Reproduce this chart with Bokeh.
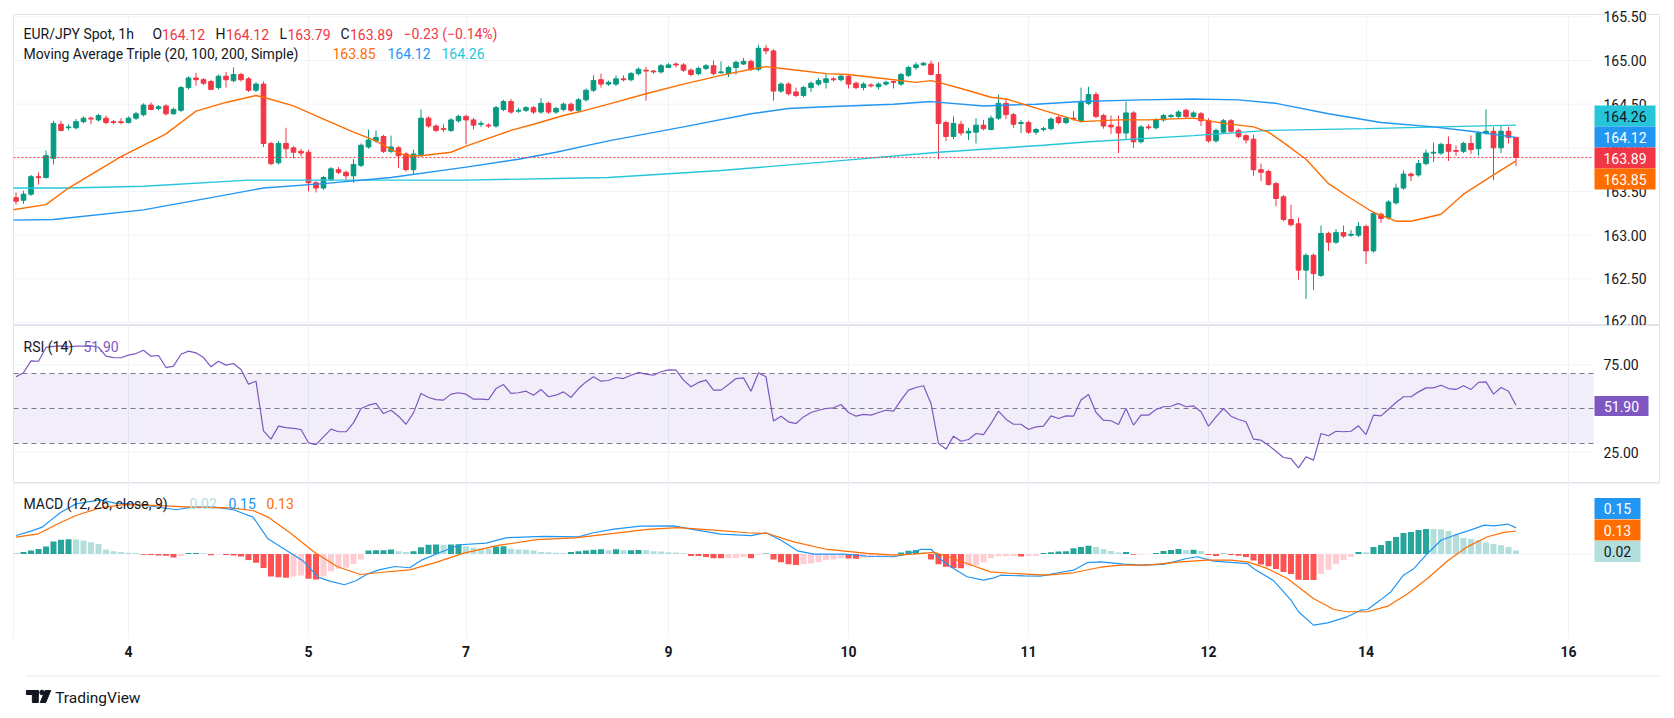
from bokeh.plotting import figure
from bokeh.layouts import column
from bokeh.models import Range1d, FixedTicker, Span, BoxAnnotation, Label, PrintfTickFormatter, ColumnDataSource
from bokeh.core.properties import value
from bokeh.embed import file_html
from bokeh.resources import INLINE

# ---------------- data (EUR/JPY 1h, 3-15 April) ----------------
day_ticks = [15, 39, 60, 87, 111, 135, 159, 180, 207]
day_labels = ["4", "5", "7", "9", "10", "11", "12", "14", "16"]

opens = [
    163.43,163.40,163.47,163.67,163.66,163.88,164.27,164.23,164.23,164.30,
    164.34,164.32,164.34,164.30,164.30,164.29,164.34,164.38,164.49,164.45,
    164.48,164.39,164.43,164.69,164.80,164.78,164.76,164.69,164.82,164.77,
    164.84,164.79,164.66,164.73,164.05,163.83,164.05,164.00,163.96,163.95,
    163.60,163.54,163.64,163.75,163.72,163.68,163.80,164.01,164.08,164.13,
    163.96,164.00,163.93,163.75,163.92,164.34,164.25,164.22,164.20,164.31,
    164.36,164.32,164.27,164.26,164.25,164.44,164.53,164.42,164.43,164.46,
    164.41,164.51,164.41,164.44,164.50,164.43,164.55,164.66,164.78,164.73,
    164.73,164.79,164.78,164.85,164.89,164.88,164.87,164.92,164.96,164.95,
    164.89,164.85,164.91,164.94,164.86,164.85,164.92,164.96,164.99,164.90,
    165.14,165.11,164.65,164.73,164.64,164.60,164.69,164.73,164.75,164.79,
    164.78,164.82,164.74,164.69,164.72,164.70,164.73,164.76,164.73,164.83,
    164.92,164.95,164.96,164.84,164.29,164.13,164.27,164.17,164.18,164.26,
    164.21,164.34,164.51,164.38,164.28,164.29,164.18,164.21,164.22,164.35,
    164.29,164.34,164.31,164.51,164.61,164.37,164.26,164.24,164.17,164.40,
    164.07,164.24,164.23,164.32,164.36,164.36,164.43,164.36,164.39,164.31,
    164.08,164.18,164.31,164.20,164.14,164.10,163.75,163.73,163.59,163.44,
    163.18,163.13,162.60,162.77,162.54,163.02,162.92,163.03,163.00,163.00,
    163.10,162.82,163.24,163.20,163.37,163.54,163.70,163.69,163.82,163.94,
    163.94,164.04,163.97,163.96,164.05,163.99,164.17,164.19,164.00,164.19,
    164.12]
highs = [
    163.49,163.51,163.69,163.72,163.97,164.31,164.31,164.27,164.33,164.36,
    164.36,164.39,164.37,164.32,164.34,164.36,164.41,164.51,164.52,164.49,
    164.50,164.46,164.71,164.82,164.86,164.80,164.78,164.84,164.87,164.92,
    164.86,164.81,164.75,164.76,164.07,164.08,164.23,164.02,163.99,163.98,
    163.62,163.68,163.78,163.78,163.74,163.87,164.05,164.21,164.20,164.15,
    164.14,164.02,163.95,163.98,164.44,164.36,164.27,164.27,164.34,164.38,
    164.38,164.34,164.31,164.28,164.48,164.55,164.56,164.46,164.48,164.48,
    164.57,164.53,164.47,164.52,164.52,164.57,164.68,164.83,164.85,164.77,
    164.83,164.83,164.87,164.92,164.93,164.89,164.96,164.97,164.98,164.97,
    164.91,164.93,164.96,165.00,164.99,164.94,165.00,165.03,165.01,165.18,
    165.18,165.13,164.75,164.75,164.69,164.71,164.76,164.80,164.85,164.81,
    164.84,164.84,164.76,164.75,164.74,164.75,164.77,164.77,164.86,164.94,
    164.98,164.98,165.00,164.98,164.31,164.36,164.31,164.23,164.34,164.32,
    164.37,164.61,164.56,164.40,164.32,164.31,164.23,164.24,164.35,164.37,
    164.36,164.42,164.69,164.70,164.64,164.39,164.37,164.37,164.53,164.42,
    164.26,164.27,164.34,164.39,164.39,164.43,164.45,164.42,164.41,164.34,
    164.22,164.33,164.33,164.22,164.16,164.15,163.82,163.75,163.61,163.46,
    163.35,163.20,162.79,162.79,163.11,163.04,163.07,163.11,163.06,163.15,
    163.12,163.27,163.26,163.40,163.59,163.74,163.72,163.86,163.98,164.06,
    164.06,164.13,164.03,164.07,164.14,164.19,164.44,164.24,164.26,164.24,
    164.12]
lows = [
    163.35,163.36,163.45,163.58,163.65,163.81,164.19,164.20,164.21,164.28,
    164.27,164.30,164.27,164.27,164.27,164.28,164.32,164.36,164.43,164.43,
    164.37,164.38,164.41,164.67,164.71,164.72,164.66,164.67,164.69,164.75,
    164.76,164.64,164.64,164.01,163.80,163.81,163.89,163.88,163.90,163.50,
    163.49,163.52,163.62,163.70,163.63,163.60,163.78,163.99,164.06,163.94,
    163.94,163.77,163.73,163.70,163.90,164.23,164.18,164.18,164.18,164.29,
    164.04,164.21,164.24,164.23,164.23,164.42,164.39,164.40,164.41,164.39,
    164.39,164.39,164.39,164.42,164.41,164.41,164.53,164.64,164.69,164.71,
    164.71,164.76,164.76,164.83,164.54,164.85,164.85,164.92,164.92,164.87,
    164.82,164.83,164.89,164.83,164.85,164.81,164.84,164.95,164.88,164.88,
    165.07,164.54,164.63,164.60,164.58,164.58,164.64,164.71,164.68,164.76,
    164.76,164.68,164.67,164.66,164.69,164.67,164.71,164.68,164.71,164.81,
    164.89,164.94,164.83,163.87,164.08,164.10,164.14,164.09,164.05,164.20,
    164.20,164.32,164.33,164.23,164.17,164.16,164.15,164.19,164.20,164.27,
    164.27,164.31,164.29,164.49,164.34,164.22,164.16,163.94,164.09,164.00,
    164.05,164.21,164.21,164.30,164.34,164.34,164.34,164.34,164.25,164.06,
    164.06,164.16,164.17,164.11,164.05,163.68,163.62,163.57,163.33,163.16,
    163.10,162.49,162.27,162.37,162.52,162.82,162.90,162.97,162.98,162.98,
    162.67,162.80,163.14,163.18,163.35,163.52,163.62,163.67,163.80,163.84,
    163.92,163.85,163.91,163.94,163.93,163.91,164.15,163.63,163.94,164.05,
    163.79]
closes = [
    163.39,163.47,163.67,163.66,163.91,164.28,164.20,164.24,164.30,164.34,
    164.33,164.37,164.29,164.29,164.29,164.34,164.39,164.49,164.44,164.47,
    164.39,164.44,164.69,164.80,164.78,164.74,164.67,164.82,164.78,164.84,
    164.78,164.66,164.73,164.05,163.82,164.05,163.99,163.95,163.94,163.60,
    163.54,163.66,163.76,163.72,163.68,163.81,164.03,164.09,164.12,163.96,
    164.01,163.91,163.75,163.93,164.34,164.25,164.20,164.21,164.32,164.36,
    164.32,164.26,164.28,164.25,164.46,164.53,164.41,164.43,164.46,164.41,
    164.51,164.41,164.45,164.50,164.43,164.55,164.66,164.77,164.73,164.75,
    164.79,164.78,164.85,164.90,164.88,164.87,164.94,164.95,164.95,164.89,
    164.84,164.91,164.94,164.85,164.87,164.92,164.98,164.99,164.90,165.14,
    165.11,164.65,164.73,164.62,164.60,164.69,164.74,164.77,164.79,164.78,
    164.82,164.73,164.69,164.73,164.71,164.73,164.75,164.75,164.84,164.92,
    164.95,164.97,164.84,164.28,164.13,164.28,164.17,164.19,164.26,164.22,
    164.34,164.51,164.38,164.27,164.29,164.18,164.21,164.22,164.33,164.29,
    164.34,164.33,164.52,164.61,164.36,164.25,164.24,164.17,164.40,164.07,
    164.24,164.23,164.32,164.37,164.37,164.41,164.36,164.40,164.31,164.08,
    164.20,164.31,164.19,164.13,164.09,163.75,163.72,163.58,163.42,163.18,
    163.12,162.60,162.77,162.56,163.02,162.92,163.03,162.99,163.01,163.10,
    162.82,163.25,163.19,163.38,163.54,163.70,163.68,163.82,163.94,163.95,
    164.04,163.96,163.96,164.05,163.98,164.17,164.19,164.00,164.19,164.12,
    163.89]

ma20_idx = [-2,4,7,14,20,24,28,32,33,37,41,45,48,50,52,54,58,60,66,69,73,75,79,84,89,94,98,100,103,108,
            111,115,120,122,123,126,130,132,137,142,147,151,157,161,165,167,169,172,175,178,181,184,186,190,193,197,200]
ma20_val = [163.27,163.35,163.54,163.90,164.16,164.42,164.52,164.60,164.58,164.48,164.33,164.18,164.08,163.98,
            163.91,163.91,163.95,164.02,164.20,164.27,164.37,164.41,164.50,164.62,164.73,164.83,164.90,164.93,
            164.90,164.85,164.84,164.80,164.75,164.77,164.75,164.68,164.58,164.56,164.43,164.30,164.32,164.32,
            164.34,164.28,164.24,164.18,164.06,163.87,163.59,163.42,163.26,163.16,163.16,163.24,163.47,163.69,163.85]
ma100_idx = [-2,5,17,26,33,41,50,60,67,72,79,89,98,103,108,117,122,129,136,142,150,157,163,168,175,182,189,194,200]
ma100_val = [163.17,163.18,163.29,163.43,163.54,163.59,163.66,163.78,163.87,163.95,164.08,164.24,164.39,164.45,
             164.47,164.50,164.53,164.48,164.50,164.53,164.55,164.56,164.55,164.51,164.39,164.29,164.24,164.19,164.12]
ma200_idx = [-2,7,17,31,46,60,72,79,94,108,123,137,143,157,167,180,190,200]
ma200_val = [163.54,163.54,163.56,163.63,163.63,163.63,163.65,163.66,163.74,163.84,163.95,164.03,164.07,164.14,
             164.20,164.22,164.24,164.26]

rsi = [
    68.1,70.4,77.2,77.0,84.9,85.5,85.8,85.2,85.6,85.6,
    85.8,85.0,79.9,79.1,79.0,80.5,81.4,83.3,79.9,80.3,
    73.4,74.2,81.0,82.8,81.8,79.1,73.8,77.0,74.8,75.7,
    72.3,63.9,65.6,37.2,32.5,39.9,39.1,38.6,38.0,30.4,
    29.4,33.8,38.2,36.7,36.7,41.8,50.0,51.9,52.9,47.1,
    49.0,45.6,41.0,47.5,58.6,56.3,55.1,54.8,58.2,59.0,
    58.2,55.3,55.3,55.1,61.4,63.7,58.6,59.0,59.9,57.6,
    60.9,56.7,57.6,59.5,56.3,61.4,65.2,68.1,65.6,66.0,
    67.7,67.1,69.0,70.6,69.6,69.0,71.0,72.1,71.9,66.2,
    62.4,64.9,66.2,60.5,60.5,63.7,67.1,67.5,59.9,70.4,
    68.1,42.8,45.6,42.4,41.4,45.2,47.7,49.0,50.0,50.4,
    52.3,47.7,45.6,46.6,46.2,47.7,49.0,48.5,54.8,60.5,
    62.0,63.0,52.9,30.0,26.8,34.2,31.3,32.3,35.7,35.1,
    41.4,48.5,43.9,41.0,41.0,38.0,39.5,39.9,45.8,44.3,
    45.8,45.6,54.8,58.0,47.7,43.3,43.0,40.9,50.0,40.5,
    46.2,46.2,49.4,51.0,51.3,52.9,51.0,51.5,48.1,39.9,
    45.2,50.0,45.6,43.7,42.4,32.5,31.9,29.0,25.6,22.0,
    21.4,16.1,22.4,20.5,35.7,34.4,37.0,36.7,37.0,40.1,
    35.1,46.2,45.8,49.6,53.4,56.7,56.7,59.5,61.8,61.8,
    63.3,61.4,60.9,63.0,60.9,64.9,65.2,58.2,62.0,59.9,
    51.9]

macd_idx = [0,2,3.5,4.6,6,8,11.2,13.2,15.3,18.3,21.4,23.4,26.5,29,31.6,33.6,35.7,38.2,40.3,41.8,
            43.8,45.4,46.9,48.4,50.5,52.5,54,56.6,59.2,62.7,65.3,70.4,75,77,79.7,83.3,87.7,90,94,98,
            100,102,104.2,106.4,110.4,113.5,117,118.8,120.6,122,123.3,125,126.8,129,130.4,131.3,134.4,136.6,138.4,141,
            142.8,144.6,147.7,150,153,156.1,157.5,159.7,164.2,165,167.7,170,171,173,174.9,177.5,179.3,180.2,181.9,183.3,
            185,186.4,188.2,190,191.8,193.5,195.8,197.1,198.9,200]
macd_val = [0.106,0.131,0.154,0.193,0.240,0.288,0.311,0.292,0.288,0.273,0.254,0.269,0.269,0.254,0.212,0.087,0.030,-0.037,-0.133,-0.156,
            -0.177,-0.152,-0.114,-0.091,-0.072,-0.079,-0.037,0.010,0.053,0.062,0.093,0.101,0.098,0.122,0.143,0.160,0.162,0.143,0.114,0.105,
            0.122,0.079,0.018,-0.001,-0.001,-0.013,-0.016,-0.001,0.026,0.027,-0.032,-0.083,-0.131,-0.150,-0.137,-0.122,-0.126,-0.127,-0.112,-0.093,
            -0.050,-0.045,-0.058,-0.064,-0.060,-0.026,-0.016,-0.041,-0.055,-0.083,-0.154,-0.265,-0.332,-0.409,-0.396,-0.361,-0.323,-0.319,-0.265,-0.218,
            -0.122,-0.083,0.003,0.079,0.108,0.131,0.166,0.162,0.172,0.150]
signal_idx = [0,3,5.6,8,11.2,14.3,18.3,23.4,28.5,31.6,33.6,36.7,39.8,42.8,45.9,48.9,52.5,56.1,59.7,64.3,
              69.4,74.5,79.7,84.2,88.2,93.1,97.5,100.2,103.7,108.2,113.5,117,119.7,122.4,124.1,126.8,129.9,133,137.5,141,
              144.6,147.3,150.8,155.3,158.8,161.9,164.2,166.8,169.5,173,175.7,177.5,180.2,182.9,185.6,188.2,190.9,193.5,196.2,198.4,200]
signal_val = [0.097,0.116,0.174,0.221,0.265,0.284,0.279,0.269,0.265,0.250,0.212,0.116,0.010,-0.072,-0.118,-0.105,-0.091,-0.047,0.005,0.049,
              0.082,0.093,0.118,0.141,0.152,0.137,0.122,0.118,0.070,0.026,0.003,-0.007,-0.001,0.009,-0.013,-0.055,-0.103,-0.112,-0.122,-0.108,
              -0.076,-0.064,-0.064,-0.045,-0.035,-0.035,-0.045,-0.083,-0.141,-0.256,-0.319,-0.332,-0.332,-0.300,-0.227,-0.141,-0.039,0.041,0.099,0.124,0.132]
hist = [
    0.006,0.011,0.020,0.028,0.043,0.072,0.082,0.084,0.083,0.078,
    0.068,0.058,0.026,0.016,0.011,0.007,0.005,-0.004,-0.006,-0.008,
    -0.010,-0.020,-0.012,0.005,0.006,0.004,-0.007,-0.003,-0.006,-0.008,
    -0.014,-0.034,-0.050,-0.080,-0.130,-0.134,-0.136,-0.130,-0.124,-0.143,
    -0.146,-0.130,-0.099,-0.085,-0.079,-0.057,-0.032,0.020,0.021,0.022,
    0.026,0.016,0.011,0.016,0.039,0.053,0.055,0.053,0.054,0.056,
    0.045,0.036,0.031,0.030,0.043,0.044,0.030,0.026,0.024,0.020,
    0.011,0.010,0.007,0.005,0.011,0.016,0.020,0.024,0.027,0.021,
    0.027,0.021,0.022,0.023,0.021,0.016,0.015,0.010,0.009,0.004,
    -0.011,-0.012,-0.017,-0.024,-0.025,-0.024,-0.023,-0.017,-0.025,-0.006,
    0.003,-0.031,-0.048,-0.059,-0.063,-0.059,-0.054,-0.048,-0.034,-0.031,
    -0.025,-0.026,-0.027,-0.021,-0.019,-0.015,-0.011,-0.008,0.008,0.019,
    0.023,0.010,-0.031,-0.059,-0.073,-0.080,-0.082,-0.069,-0.063,-0.048,
    -0.025,-0.013,-0.012,-0.011,-0.014,-0.012,-0.011,0.006,0.010,0.015,
    0.016,0.033,0.040,0.048,0.040,0.029,0.017,0.008,0.011,-0.004,
    -0.003,-0.002,0.006,0.017,0.023,0.029,0.023,0.024,0.017,-0.006,
    -0.011,0.003,-0.006,-0.010,-0.017,-0.038,-0.061,-0.071,-0.086,-0.103,
    -0.115,-0.148,-0.149,-0.150,-0.115,-0.092,-0.057,-0.034,-0.017,0.011,
    0.010,0.040,0.052,0.075,0.098,0.121,0.126,0.138,0.144,0.143,
    0.142,0.132,0.109,0.092,0.086,0.080,0.066,0.058,0.050,0.040,
    0.020]

# ---------------- styling / layout constants ----------------
UP, DOWN = "#089981", "#F23645"
C20, C100, C200 = "#FF6D00", "#2196F3", "#26C6DA"
RSI_C = "#7E57C2"
GRID = "#F0F3FA"
BORDER = "#E0E3EB"
TXT = "#131722"
FONT = "Roboto"
LEFT, RIGHT_EDGE, PLOT_RIGHT = 13, 1660, 1593   # page x: frame left, widget right, price-scale start
FRAME_W = RIGHT_EDGE - LEFT
X0_PAGE, BAR_PX = 15.5, 7.5                       # page x of bar 0, pixels per bar

MAIN_TOP, MAIN_H, MAIN_Y = 14, 311, (161.966, 165.527)
RSI_TOP, RSI_H, RSI_Y = 325, 158, (7.14, 97.43)
MACD_TOP, MACD_H, MACD_Y = 483, 155, (-0.4856, 0.405)


def xd(px):
    return (px - X0_PAGE) / BAR_PX


def yd(py, top, h, rng):
    lo, hi = rng
    return hi - (py - top) / h * (hi - lo)


xr = Range1d(xd(LEFT), xd(RIGHT_EDGE))
X_END = xd(PLOT_RIGHT)


def make_fig(frame_h, rng, ticks, fmt, border_top=0, border_bottom=0, xaxis=False):
    p = figure(frame_width=FRAME_W, frame_height=frame_h, x_range=xr, y_range=Range1d(*rng),
               output_backend="svg", toolbar_location=None, y_axis_location="right",
               x_axis_location="below" if xaxis else None,
               min_border_left=LEFT, min_border_right=0, min_border_top=border_top,
               min_border_bottom=border_bottom)
    p.background_fill_color = "white"
    p.border_fill_color = "white"
    p.outline_line_color = BORDER
    p.xgrid.ticker = FixedTicker(ticks=day_ticks)
    p.xgrid.grid_line_color = GRID
    p.ygrid.visible = False
    # horizontal grid lines stop where the price scale begins
    p.segment(x0=[xr.start] * len(ticks), y0=ticks, x1=[X_END] * len(ticks), y1=ticks,
              line_color=GRID, line_width=1)
    ax = p.yaxis[0]
    ax.ticker = FixedTicker(ticks=ticks)
    ax.formatter = PrintfTickFormatter(format=fmt)
    ax.axis_line_color = None
    ax.major_tick_line_color = None
    ax.minor_tick_line_color = None
    ax.major_tick_out = 0
    ax.major_tick_in = 0
    ax.major_label_standoff = -(RIGHT_EDGE - 1603)   # labels sit inside the price-scale strip
    ax.major_label_text_font = FONT
    ax.major_label_text_font_size = "14px"
    ax.major_label_text_color = TXT
    return p


def text(p, px, py, top, h, rng, s, color=TXT, size="14px"):
    p.add_layout(Label(x=xd(px), y=yd(py, top, h, rng), text=s, text_font=FONT, text_font_size=size,
                       text_color=color, text_align="left", text_baseline="middle"))


def boxes(p, pys, top, h, rng, labels, bgs, fgs, width_px, height_px):
    """Price-scale value tags, drawn above the axis labels."""
    xc = xd(PLOT_RIGHT + 1 + width_px / 2)
    ys = [yd(py, top, h, rng) for py in pys]
    p.rect(x=[xc] * len(ys), y=ys, width=width_px, height=height_px, width_units="screen",
           height_units="screen", fill_color=bgs, line_color=None, level="overlay")
    p.text(x=[xc] * len(ys), y=ys, text=labels, text_color=fgs, text_font=value(FONT),
           text_font_size=value("14px"), text_align="center", text_baseline="middle", level="overlay")


# ---------------- main price pane ----------------
price_ticks = [162.0, 162.5, 163.0, 163.5, 164.0, 164.5, 165.0, 165.5]
p1 = make_fig(MAIN_H, MAIN_Y, price_ticks, "%.2f", border_top=MAIN_TOP)
idx = list(range(len(closes)))
cols = [UP if c > o else DOWN for o, c in zip(opens, closes)]
src = ColumnDataSource(dict(x=idx, o=opens, h=highs, l=lows, c=closes,
                            top=[max(o, c) for o, c in zip(opens, closes)],
                            bot=[min(o, c) for o, c in zip(opens, closes)], col=cols))
p1.segment(x0="x", y0="l", x1="x", y1="h", color="col", line_width=1, source=src)
p1.vbar(x="x", top="top", bottom="bot", width=0.62, fill_color="col", line_color="col", line_width=1, source=src)
p1.line(ma200_idx, ma200_val, line_color=C200, line_width=1.4)
p1.line(ma100_idx, ma100_val, line_color=C100, line_width=1.4)
p1.line(ma20_idx, ma20_val, line_color=C20, line_width=1.4)
p1.segment(x0=[xr.start], y0=[closes[-1]], x1=[X_END], y1=[closes[-1]], line_color=DOWN,
           line_dash="2 2", line_width=1)

chg = closes[-1] - closes[-2]
pct = chg / closes[-2] * 100
M = (MAIN_TOP, MAIN_H, MAIN_Y)
text(p1, 23, 33.5, *M, "EUR/JPY Spot, 1h")
for lab, val, xl, xv in [("O", opens[-1], 152, 161.5), ("H", highs[-1], 215, 225.5),
                         ("L", lows[-1], 279, 287), ("C", closes[-1], 340, 349.5)]:
    text(p1, xl, 33.5, *M, lab)
    text(p1, xv, 33.5, *M, f"{val:.2f}", color=DOWN)
text(p1, 403, 33.5, *M, f"\u2212{abs(chg):.2f} (\u2212{abs(pct):.2f}%)", color=DOWN)
text(p1, 23, 53, *M, "Moving Average Triple (20, 100, 200, Simple)")
text(p1, 332, 53, *M, f"{ma20_val[-1]:.2f}", color=C20)
text(p1, 387, 53, *M, f"{ma100_val[-1]:.2f}", color=C100)
text(p1, 441, 53, *M, f"{ma200_val[-1]:.2f}", color=C200)

boxes(p1, [115.5, 136.5, 157.5, 178.5], *M,
      [f"{ma200_val[-1]:.2f}", f"{ma100_val[-1]:.2f}", f"{closes[-1]:.2f}", f"{ma20_val[-1]:.2f}"],
      [C200, C100, DOWN, C20], [TXT, "white", "white", "white"], 61, 21)

# ---------------- RSI pane ----------------
p2 = make_fig(RSI_H, RSI_Y, [25, 75], "%.2f")
p2.add_layout(BoxAnnotation(bottom=30, top=70, right=X_END, fill_color=RSI_C, fill_alpha=0.1, line_alpha=0))
for lvl in (70, 50, 30):
    p2.segment(x0=[xr.start], y0=[lvl], x1=[X_END], y1=[lvl], line_color="#787B86",
               line_dash="5 4", line_width=1)
p2.line(idx, rsi, line_color=RSI_C, line_width=1.2)
R = (RSI_TOP, RSI_H, RSI_Y)
text(p2, 23, 346, *R, "RSI (14)")
text(p2, 83, 346, *R, f"{rsi[-1]:.2f}", color=RSI_C)
boxes(p2, [405.5], *R, [f"{rsi[-1]:.2f}"], [RSI_C], ["white"], 54, 20)

# ---------------- MACD pane ----------------
p3 = make_fig(MACD_H, MACD_Y, [0], "%.2f", border_bottom=37, xaxis=True)
p3.yaxis[0].major_label_overrides = {0: ""}
p3.outline_line_color = None
p3.add_layout(Span(location=MACD_Y[1], dimension="width", line_color=BORDER, line_width=1))
p3.add_layout(Span(location=xr.start, dimension="height", line_color=BORDER, line_width=1))
p3.add_layout(Span(location=xr.end, dimension="height", line_color=BORDER, line_width=1))
hcols = []
for k, hv in enumerate(hist):
    prev = hist[k - 1] if k > 0 else hv
    if hv >= 0:
        hcols.append("#26A69A" if hv > prev else "#B2DFDB")
    else:
        hcols.append("#FFCDD2" if hv > prev else "#FF5252")
p3.vbar(x=idx, top=hist, bottom=0, width=0.8, fill_color=hcols, line_color=None)
p3.line(macd_idx, macd_val, line_color=C100, line_width=1.2)
p3.line(signal_idx, signal_val, line_color=C20, line_width=1.2)
xa = p3.xaxis[0]
xa.ticker = FixedTicker(ticks=day_ticks)
xa.major_label_overrides = {t: s for t, s in zip(day_ticks, day_labels)}
xa.axis_line_color = None
xa.major_tick_line_color = None
xa.minor_tick_line_color = None
xa.major_tick_out = 0
xa.major_tick_in = 0
xa.major_label_standoff = 7
xa.major_label_text_font = FONT
xa.major_label_text_font_size = "14px"
xa.major_label_text_font_style = "bold"
xa.major_label_text_color = TXT
Q = (MACD_TOP, MACD_H, MACD_Y)
text(p3, 23, 503, *Q, "MACD (12, 26, close, 9)")
text(p3, 189, 503, *Q, f"{hist[-1]:.2f}", color="#B2DFDB")
text(p3, 228, 503, *Q, f"{macd_val[-1]:.2f}", color=C100)
text(p3, 266, 503, *Q, f"{signal_val[-1]:.2f}", color=C20)
boxes(p3, [508, 529.5, 551], *Q,
      [f"{macd_val[-1]:.2f}", f"{signal_val[-1]:.2f}", f"{hist[-1]:.2f}"],
      [C100, C20, "#B2DFDB"], ["white", "white", TXT], 46, 21)

# ---------------- footer (TradingView mark) ----------------
pf = figure(width=RIGHT_EDGE, height=40, x_range=Range1d(0, RIGHT_EDGE), y_range=Range1d(40, 0),
            output_backend="svg", toolbar_location=None, x_axis_location=None, y_axis_location=None,
            min_border=0)
pf.grid.visible = False
pf.outline_line_color = None
pf.background_fill_color = "white"
pf.border_fill_color = "white"
pf.segment(x0=[LEFT - 0.5], y0=[0.5], x1=[RIGHT_EDGE - 0.5], y1=[0.5], line_color=BORDER, line_width=1)
pf.quad(left=[13], right=[25], top=[15], bottom=[19], color=TXT)
pf.quad(left=[19], right=[25], top=[15], bottom=[27], color=TXT)
pf.scatter(x=[28.8], y=[17], size=4.6, color=TXT)
pf.patch(x=[32, 37.5, 32.5, 27], y=[15, 15, 27, 27], color=TXT)
pf.add_layout(Label(x=42, y=22, text="TradingView", text_font=FONT, text_font_size="15.5px",
                    text_color=TXT, text_baseline="middle", text_align="left"))

layout = column(p1, p2, p3, pf, spacing=0)
open("out.html", "w").write(file_html(layout, INLINE))
